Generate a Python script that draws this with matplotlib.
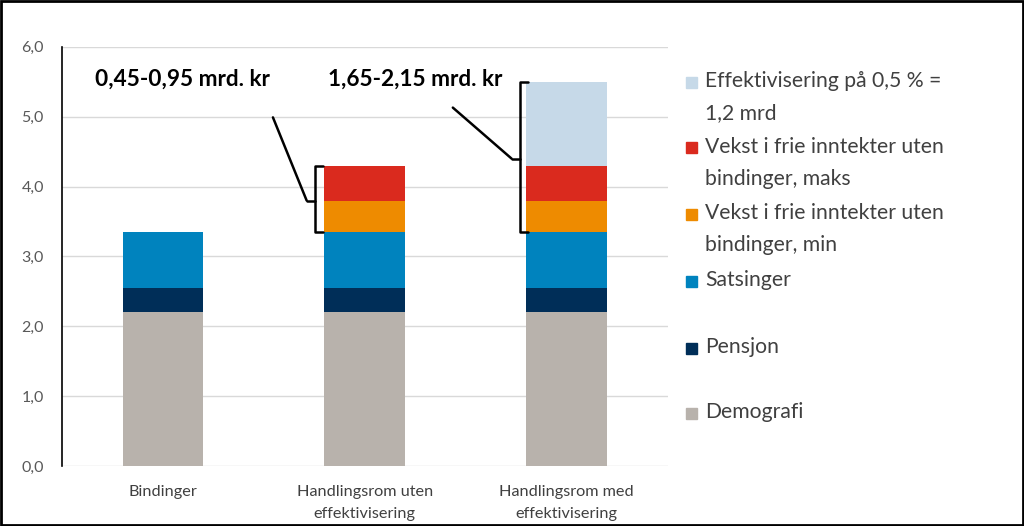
import matplotlib.pyplot as plt
import numpy as np
from matplotlib.patches import Rectangle

categories = ["Bindinger", "Handlingsrom uten\neffektivisering", "Handlingsrom med\neffektivisering"]
series = ["Demografi", "Pensjon", "Satsinger",
          "Vekst i frie inntekter uten\nbindinger, min",
          "Vekst i frie inntekter uten\nbindinger, maks",
          "Effektivisering på 0,5 % =\n1,2 mrd"]
demografi = [2.2, 2.2, 2.2]
pensjon = [0.35, 0.35, 0.35]
satsinger = [0.8, 0.8, 0.8]
vekst_min = [0.0, 0.45, 0.45]
vekst_maks = [0.0, 0.5, 0.5]
effektivisering = [0.0, 0.0, 1.2]
colors = ["#B8B2AC", "#002E58", "#0083BE", "#EE8B00", "#DA2A1E", "#C6D9E8"]
range_labels = ["0,45-0,95 mrd. kr", "1,65-2,15 mrd. kr"]

plt.rcParams['font.family'] = ['Lato', 'DejaVu Sans']

fig = plt.figure(figsize=(10.24, 5.26), dpi=100)
ax = fig.add_axes([0.0605, 0.114, 0.5915, 0.797])

x = np.arange(len(categories))
values = [demografi, pensjon, satsinger, vekst_min, vekst_maks, effektivisering]
bottom = np.zeros(len(categories))
for vals, col in zip(values, colors):
    v = np.array(vals)
    ax.bar(x, v, 0.4, bottom=bottom, color=col, zorder=3)
    bottom += v

ax.set_xlim(-0.5, 2.5)
ax.set_ylim(0, 6)
ax.set_yticks(np.arange(0, 6.1, 1))
ax.set_yticklabels([f"{t:.1f}".replace(".", ",") for t in np.arange(0, 6.1, 1)],
                   color="#595959", fontsize=11.5)
ax.set_xticks(x)
ax.set_xticklabels(categories, color="#404040", fontsize=11.7, linespacing=1.65)
ax.tick_params(length=0)
ax.tick_params(axis="x", pad=14)
ax.tick_params(axis="y", pad=13)
ax.grid(axis="y", color="#D9D9D9", lw=1, zorder=0)
for s in ["top", "right", "bottom"]:
    ax.spines[s].set_visible(False)
ax.spines["left"].set_color("black")
ax.spines["left"].set_linewidth(1.2)

# brackets for the two ranges
tot2 = demografi[1] + pensjon[1] + satsinger[1]
top2 = tot2 + vekst_min[1] + vekst_maks[1]
tot3 = tot2
top3 = top2 + effektivisering[2]

def bracket(xv, y0, y1, ytip, xline, yline, w=0.04):
    kw = dict(color="black", lw=1.8, solid_capstyle="round", zorder=4)
    ax.plot([xv + w, xv, xv, xv + w], [y0, y0, y1, y1], **kw)
    ax.plot([xv, xv - w], [ytip, ytip], **kw)
    ax.plot([xv - w, xline], [ytip, yline], **kw)

bracket(0.752, tot2, top2, 3.8, 0.545, 4.99)
bracket(1.767, tot3, top3, 4.4, 1.436, 5.13)

ax.text(-0.337, 5.53, range_labels[0], fontsize=16.3, fontweight="bold", va="center", ha="left")
ax.text(0.817, 5.53, range_labels[1], fontsize=16.3, fontweight="bold", va="center", ha="left")

# legend drawn by hand to keep Excel-like spacing
leg_y = [82, 148, 214, 281, 348, 413]
for i, (lab, col) in enumerate(zip(series[::-1], colors[::-1])):
    yc = 1 - leg_y[i] / 526
    fig.patches.append(Rectangle((686 / 1024, yc - 5.5 / 526), 11 / 1024, 11 / 526,
                                 transform=fig.transFigure, color=col))
    fig.text(705 / 1024, yc + 11 / 526, lab, fontsize=15.2, color="#404040",
             va="top", ha="left", linespacing=1.75)

fig.patches.append(Rectangle((0.001, 0.002), 0.998, 0.996, transform=fig.transFigure,
                             fill=False, edgecolor="black", lw=2))

fig.savefig("out.png", dpi=100)
